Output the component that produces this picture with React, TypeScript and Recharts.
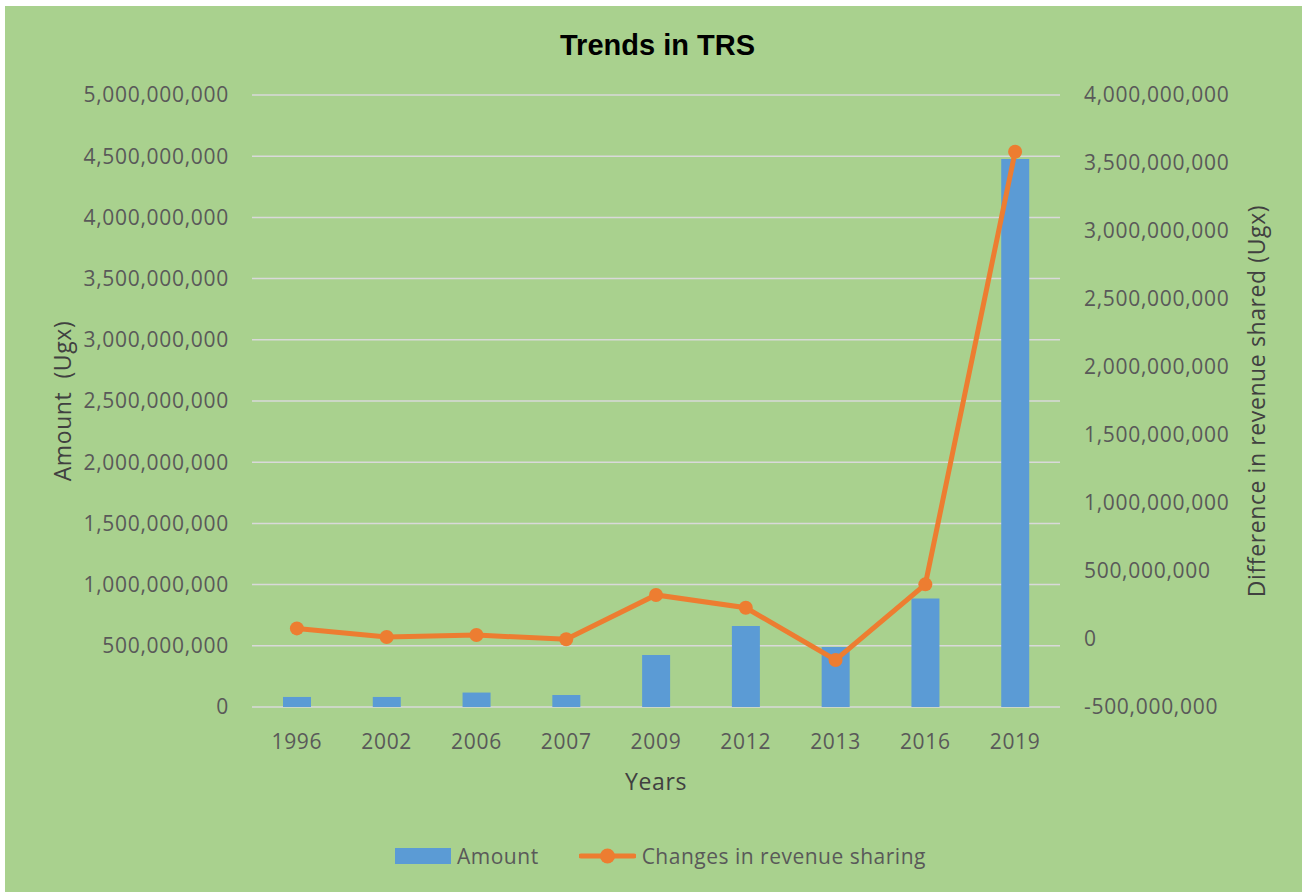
import { ComposedChart, Bar, Line, XAxis, YAxis, CartesianGrid, Legend } from 'recharts'

const years = ['1996', '2002', '2006', '2007', '2009', '2012', '2013', '2016', '2019']
const amounts = [82e6, 82e6, 118e6, 98e6, 425e6, 662e6, 490e6, 886e6, 4477e6]
const changes = [78e6, 15e6, 29e6, -2e6, 324e6, 230e6, -154e6, 402e6, 3583e6]
const leftTicks = [0, 5e8, 1e9, 1.5e9, 2e9, 2.5e9, 3e9, 3.5e9, 4e9, 4.5e9, 5e9]
const rightTicks = [-5e8, 0, 5e8, 1e9, 1.5e9, 2e9, 2.5e9, 3e9, 3.5e9, 4e9]

const data = years.map((year, i) => ({ year, amount: amounts[i], change: changes[i] }))

const font = "'Open Sans', sans-serif"
const tickStyle = { fontSize: 21, fill: '#595959', fontFamily: font, letterSpacing: 0.7 }
const titleStyle = { fontSize: 23, fill: '#404040', fontFamily: font, textAnchor: 'middle', letterSpacing: 0.6 }
const fmt = (v: number) => v.toLocaleString('en-US')

function LegendBox() {
  return (
    <div style={{ height: 30, display: 'flex', justifyContent: 'center', alignItems: 'center', fontFamily: font, fontSize: 21, letterSpacing: 0.5, color: '#595959', paddingLeft: 14 }}>
      <span style={{ display: 'inline-block', width: 56, height: 16, background: '#5B9BD5', marginRight: 6 }} />
      <span style={{ marginRight: 40 }}>Amount</span>
      <svg width={57} height={18} style={{ marginRight: 6 }}>
        <line x1={2} y1={9} x2={55} y2={9} stroke="#ED7D31" strokeWidth={5} strokeLinecap="round" />
        <circle cx={28.5} cy={9} r={7.5} fill="#ED7D31" />
      </svg>
      <span>Changes in revenue sharing</span>
    </div>
  )
}

export default function App() {
  return (
    <div style={{ position: 'absolute', left: 5, top: 6, width: 1297, height: 886, background: '#A9D18E' }}>
      <div style={{ position: 'absolute', top: 23, width: '100%', paddingLeft: 4, textAlign: 'center', fontFamily: "'Liberation Sans', Arial, sans-serif", fontWeight: 'bold', fontSize: 29, color: '#000' }}>
        Trends in TRS
      </div>
      <ComposedChart width={1297} height={886} data={data} margin={{ top: 89, right: 0, bottom: 21, left: 0 }}>
        <CartesianGrid yAxisId="left" vertical={false} stroke="#D9D9D9" strokeWidth={1.5} />
        <XAxis
          dataKey="year"
          height={134}
          axisLine={false}
          tickLine={false}
          tickMargin={21}
          tick={tickStyle}
          label={{ value: 'Years', position: 'insideTop', offset: 67, style: titleStyle }}
        />
        <YAxis
          yAxisId="left"
          width={247}
          domain={[0, 5e9]}
          ticks={leftTicks}
          interval={0}
          axisLine={false}
          tickLine={false}
          tickMargin={17}
          tick={tickStyle}
          tickFormatter={fmt}
          label={{ value: 'Amount\u00a0\u00a0(Ugx)', angle: -90, position: 'center', dx: -66, style: titleStyle }}
        />
        <YAxis
          yAxisId="right"
          orientation="right"
          width={242}
          domain={[-5e8, 4e9]}
          ticks={rightTicks}
          interval={0}
          axisLine={false}
          tickLine={false}
          tickMargin={18}
          tick={tickStyle}
          tickFormatter={fmt}
          label={{ value: 'Difference in revenue shared (Ugx)', angle: -90, position: 'center', dx: 76, style: titleStyle }}
        />
        <Legend verticalAlign="bottom" content={() => <LegendBox />} />
        <Bar yAxisId="left" dataKey="amount" name="Amount" fill="#5B9BD5" barSize={28} isAnimationActive={false} />
        <Line
          yAxisId="right"
          dataKey="change"
          name="Changes in revenue sharing"
          type="linear"
          stroke="#ED7D31"
          strokeWidth={5}
          dot={{ r: 7, fill: '#ED7D31', stroke: 'none' }}
          activeDot={false}
          isAnimationActive={false}
        />
      </ComposedChart>
    </div>
  )
}
